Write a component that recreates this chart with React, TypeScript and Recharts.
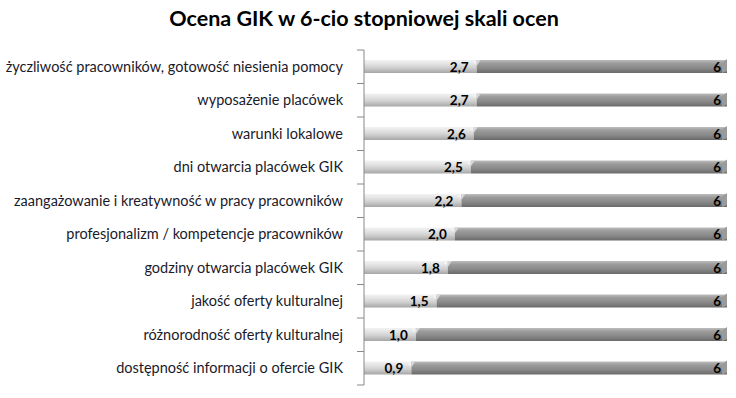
import { BarChart, Bar, XAxis, YAxis, LabelList } from 'recharts';

const categories = [
  'życzliwość pracowników, gotowość niesienia pomocy',
  'wyposażenie placówek',
  'warunki lokalowe',
  'dni otwarcia placówek GIK',
  'zaangażowanie i kreatywność w pracy pracowników',
  'profesjonalizm / kompetencje pracowników',
  'godziny otwarcia placówek GIK',
  'jakość oferty kulturalnej',
  'różnorodność oferty kulturalnej',
  'dostępność informacji o ofercie GIK',
];
const ratings = [2.7, 2.7, 2.6, 2.5, 2.2, 2.0, 1.8, 1.5, 1.0, 0.9];
const scaleMax = [6, 6, 6, 6, 6, 6, 6, 6, 6, 6];

const data = categories.map((name, i) => ({ name, rating: ratings[i], max: scaleMax[i] }));

const BAND = 33.5;
const AXIS_X = 364;
const fmt = (v: number) => v.toFixed(1).replace('.', ',');

const CategoryTick = (props: any) => {
  const { y, payload, index } = props;
  return (
    <g>
      <line x1={AXIS_X - 7} x2={AXIS_X} y1={y - BAND / 2} y2={y - BAND / 2} stroke="#888" />
      {index === categories.length - 1 && (
        <line x1={AXIS_X - 7} x2={AXIS_X} y1={y + BAND / 2} y2={y + BAND / 2} stroke="#888" />
      )}
      <text x={AXIS_X - 21} y={y} dy={5} textAnchor="end" fill="#1a1a2a" fontSize={14.5} fontFamily="Lato, 'Noto Sans', sans-serif">
        {payload.value}
      </text>
    </g>
  );
};

const LightBar = (props: any) => {
  const { x, y, width, height } = props;
  return (
    <g>
      <rect x={x} y={y} width={width} height={height} fill="url(#gLight)" />
      <polygon points={`${x + width - 4},${y + 2} ${x + width},${y} ${x + width},${y + 5}`} fill="#f4f4f4" />
    </g>
  );
};

const DarkBar = (props: any) => {
  const { x, y, width, height } = props;
  return (
    <g>
      <rect x={x} y={y} width={width} height={height} fill="url(#gDark)" />
      <polygon points={`${x},${y} ${x + 4},${y} ${x},${y + 6}`} fill="#d8d8d8" />
      <polygon points={`${x + width - 5},${y + 3} ${x + width},${y - 1} ${x + width},${y + height - 2} ${x + width - 5},${y + height}`} fill="#9a9a9a" />
    </g>
  );
};

const valueLabel = (key: 'rating' | 'max') => (props: any) => {
  const { x, y, width, height, index } = props;
  const v = key === 'rating' ? fmt(ratings[index]) : String(scaleMax[index]);
  return (
    <text x={x + width - (key === 'rating' ? 8 : 6)} y={y + height / 2} dy={5} textAnchor="end" fontWeight="bold" fontSize={13.5} fill="#000" fontFamily="Lato, 'Noto Sans', sans-serif">
      {v}
    </text>
  );
};

export default function App() {
  return (
    <div style={{ position: 'absolute', left: 0, top: 0, width: 736, height: 398, background: '#fff' }}>
      <div style={{ position: 'absolute', top: 5, left: -4, width: 736, textAlign: 'center', fontFamily: "Lato, 'Noto Sans', sans-serif", fontWeight: 'bold', fontSize: 21.5, color: '#000' }}>
        Ocena GIK w 6-cio stopniowej skali ocen
      </div>
      <BarChart width={736} height={398} data={data} layout="vertical" stackOffset="expand" barSize={13} margin={{ top: 50, right: 9, bottom: 13, left: 0 }}>
        <defs>
          <linearGradient id="gLight" x1="0" y1="0" x2="0" y2="1">
            <stop offset="0" stopColor="#f2f2f2" />
            <stop offset="0.25" stopColor="#e6e6e6" />
            <stop offset="0.6" stopColor="#cfcfcf" />
            <stop offset="1" stopColor="#a6a6a6" />
          </linearGradient>
          <linearGradient id="gDark" x1="0" y1="0" x2="0" y2="1">
            <stop offset="0" stopColor="#bdbdbd" />
            <stop offset="0.25" stopColor="#9c9c9c" />
            <stop offset="0.6" stopColor="#8a8a8a" />
            <stop offset="1" stopColor="#6a6a6a" />
          </linearGradient>
        </defs>
        <XAxis type="number" hide domain={[0, 1]} />
        <YAxis type="category" dataKey="name" width={364} axisLine={{ stroke: '#888' }} tickLine={false} tick={<CategoryTick />} interval={0} />
        <Bar dataKey="rating" stackId="a" shape={<LightBar />} isAnimationActive={false}>
          <LabelList content={valueLabel('rating')} />
        </Bar>
        <Bar dataKey="max" stackId="a" shape={<DarkBar />} isAnimationActive={false}>
          <LabelList content={valueLabel('max')} />
        </Bar>
      </BarChart>
    </div>
  );
}
